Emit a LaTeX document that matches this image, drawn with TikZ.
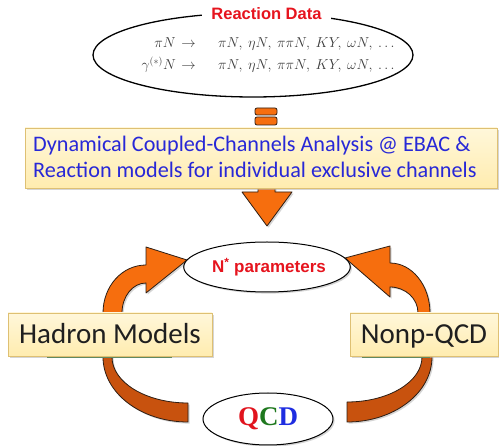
\documentclass[tikz,border=0pt]{standalone}
\usepackage{fontspec}
\setmainfont{Carlito}
\newfontfamily\arialf{Liberation Sans}
\newfontfamily\timesf{Liberation Serif}
\usetikzlibrary{shapes.geometric}
\definecolor{orgA}{RGB}{246,110,14}
\definecolor{orgB}{RGB}{200,82,14}
\definecolor{edgeD}{RGB}{45,30,20}
\definecolor{boxfill}{RGB}{255,236,175}
\definecolor{boxtop}{RGB}{255,247,218}
\definecolor{boxedge}{RGB}{222,192,115}
\definecolor{dccblue}{RGB}{40,40,215}
\definecolor{redlab}{RGB}{230,20,30}
\definecolor{qred}{RGB}{225,20,30}
\definecolor{qgreen}{RGB}{30,120,30}
\definecolor{qblue}{RGB}{30,45,225}
\definecolor{mathgray}{RGB}{60,60,60}
\tikzset{
  shade/.style={preaction={fill=black!30, opacity=0.55, transform canvas={shift={(1.6pt,-1.6pt)}}}},
  bandA/.style={fill=orgA, draw=edgeD, line width=0.8pt, line join=round, shade},
  bandB/.style={fill=orgB, draw=edgeD, line width=0.8pt, line join=round, shade},
  ybox/.style={rectangle, draw=boxedge, line width=0.8pt, top color=boxtop, bottom color=boxfill, inner sep=0pt, shade},
  ell/.style={ellipse, draw=black, line width=1pt, fill=white, inner sep=0pt, shade},
  mtext/.style={inner sep=0pt, text=mathgray, font=\fontsize{14.5}{16}\selectfont},
  dcc/.style={inner sep=0pt, text=dccblue, font=\fontsize{22.2}{25}\selectfont, anchor=base west},
  bigtxt/.style={text=black!88, font=\fontsize{29}{32}\selectfont, text height=18.7pt, text depth=0pt}
}
\begin{document}
\begin{tikzpicture}[x=1pt,y=-1pt]
\useasboundingbox (0,0) rectangle (499,446);

% top ellipse
\node[ellipse, draw=black, line width=1.3pt, minimum width=320pt, minimum height=84pt, inner sep=0pt] (data) at (253,55) {};
\node[fill=white, inner xsep=9pt, inner ysep=1pt, text=redlab, font=\arialf\bfseries\fontsize{16.5}{18}\selectfont] (datalabel) at (266.5,14) {Reaction Data};
\node[mtext, anchor=base east] (l1a) at (176,48) {$\pi N$};
\node[mtext, anchor=base] (l1b) at (188.5,48) {$\rightarrow$};
\node[mtext, anchor=base west] (l1c) at (218,48) {$\pi N,\:\eta N,\:\pi\pi N,\:KY,\:\omega N,\:\ldots$};
\node[mtext, anchor=base east] (l2a) at (176,70) {$\gamma^{(*)}N$};
\node[mtext, anchor=base] (l2b) at (188.5,70) {$\rightarrow$};
\node[mtext, anchor=base west] (l2c) at (218,70) {$\pi N,\:\eta N,\:\pi\pi N,\:KY,\:\omega N,\:\ldots$};

% equals bars
\draw[fill=orgA, draw=edgeD, line width=0.8pt, rounded corners=2pt] (255,108) rectangle (277,115);
\draw[fill=orgA, draw=edgeD, line width=0.8pt, rounded corners=2pt] (255,117) rectangle (277,125);

% down arrow
\path[bandA] (258,180) -- (258,192) -- (242,192) -- (267,226) -- (292,192) -- (275,192) -- (275,180) -- cycle;

% yellow box
\node[ybox, minimum width=472pt, minimum height=60pt] (dccbox) at (261,158) {};
\node[dcc] (dcc1) at (33,152) {Dynamical Coupled-Channels Analysis @ EBAC \&};
\node[dcc] (dcc2) at (33,178) {Reaction models for individual exclusive channels};

% curved bands
\path[bandA] (103,322) -- (103,313) .. controls (103,286.5) and (121.8,265) .. (146,265) -- (146,247) -- (187,260) -- (146,293) -- (146,283) .. controls (132.7,283) and (122,296.4) .. (122,313) -- (122,322) -- cycle;
\path[bandB] (103,350) -- (103,357) .. controls (103,392.9) and (141,422) .. (188,422) -- (188,403) .. controls (146,403) and (112,382.4) .. (112,357) -- (112,350) -- cycle;
\path[bandA] (430,322) -- (430,313) .. controls (430,285.4) and (412,263) .. (390,263) -- (390,246) -- (345,258) -- (390,297) -- (390,287) .. controls (405.5,287) and (418,298.6) .. (418,313) -- (418,322) -- cycle;
\path[bandB] (432,350) -- (432,357) .. controls (432,393) and (394,422) .. (347,422) -- (347,402) .. controls (388.4,402) and (422,381.9) .. (422,357) -- (422,350) -- cycle;

% side boxes
\draw[green!35!black, line width=1.2pt] (47,357.5) -- (172,357.5);
\draw[green!35!black, line width=1.2pt] (362,357.5) -- (430,357.5);
\node[ybox, bigtxt, minimum width=204pt, minimum height=43pt] (hadron) at (110,334.5) {Hadron Models};
\node[ybox, bigtxt, minimum width=148pt, minimum height=43pt] (nonp) at (424,334.5) {Nonp-QCD};

% ellipses
\node[ell, minimum width=149pt, minimum height=50pt, text=redlab, font=\arialf\bfseries\fontsize{17}{19}\selectfont] (nstar) at (267,267) {\hspace*{4pt}N\textsuperscript{*} parameters};
\node[ell, minimum width=130pt, minimum height=52pt, font=\timesf\bfseries\fontsize{27}{30}\selectfont] (qcd) at (268,419) {\textcolor{qred}{Q}\textcolor{qgreen}{C}\textcolor{qblue}{D}};
\end{tikzpicture}
\end{document}
